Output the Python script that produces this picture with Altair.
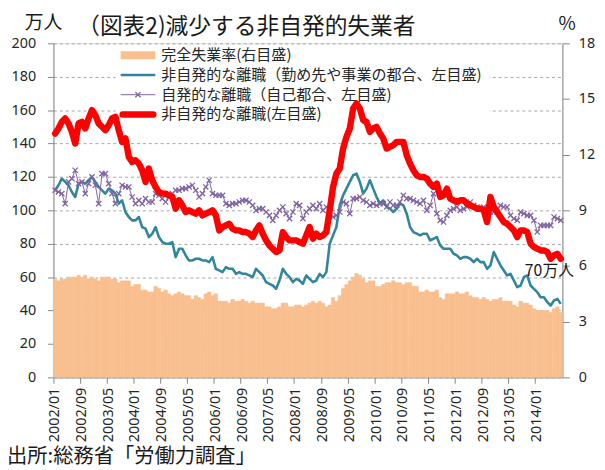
import altair as alt
import pandas as pd

# ---- data -------------------------------------------------------------
months = [f"{y}/{m:02d}" for y in range(2002, 2015) for m in range(1, 13)][:152]
tick_labels = months[::8]

# 完全失業率 (%) right axis
rate = [
    5.3, 5.2, 5.3, 5.3, 5.4, 5.4, 5.4, 5.5, 5.4, 5.5, 5.3, 5.4,
    5.3, 5.2, 5.4, 5.4, 5.4, 5.3, 5.3, 5.1, 5.2, 5.2, 5.2, 4.9,
    5.0, 5.0, 4.7, 4.7, 4.6, 4.6, 4.9, 4.8, 4.6, 4.7, 4.5, 4.4,
    4.5, 4.6, 4.5, 4.4, 4.4, 4.2, 4.4, 4.3, 4.2, 4.5, 4.6, 4.4,
    4.5, 4.1, 4.1, 4.1, 4.0, 4.2, 4.1, 4.1, 4.2, 4.1, 4.0, 4.1,
    4.0, 4.0, 4.0, 3.8, 3.8, 3.7, 3.7, 3.8, 4.0, 4.0, 3.8, 3.8,
    3.9, 3.9, 3.8, 3.9, 4.0, 4.1, 4.0, 4.1, 4.0, 3.8, 3.9, 4.3,
    4.1, 4.4, 4.8, 5.0, 5.2, 5.4, 5.6, 5.5, 5.3, 5.1, 5.2, 5.2,
    4.9, 4.9, 5.0, 5.1, 5.1, 5.2, 5.1, 5.1, 5.0, 5.1, 5.1, 4.9,
    4.9, 4.6, 4.6, 4.7, 4.6, 4.6, 4.7, 4.3, 4.2, 4.5, 4.5, 4.5,
    4.6, 4.5, 4.5, 4.6, 4.4, 4.3, 4.3, 4.2, 4.3, 4.2, 4.1, 4.2,
    4.2, 4.3, 4.1, 4.1, 4.1, 3.9, 3.8, 4.1, 4.0, 4.0, 3.9, 3.7,
    3.6, 3.6, 3.6, 3.6, 3.5, 3.7, 3.8, 3.5,
]

# 非自発的な離職（勤め先や事業の都合）万人
company = [
    112, 115, 119, 117, 115, 111, 108, 116, 117, 116, 118, 120,
    117, 114, 112, 110, 113, 112, 110, 104, 106, 99, 96, 94,
    94, 96, 90, 89, 84, 86, 90, 84, 81, 80, 80, 81,
    72, 77, 77, 73, 70, 70, 71, 71, 70, 70, 69, 72,
    65, 64, 63, 66, 65, 65, 62, 63, 62, 62, 61, 60,
    65, 63, 61, 57, 56, 55, 53, 58, 65, 62, 60, 57,
    59, 58, 56, 61, 59, 57, 58, 62, 60, 63, 80, 85,
    90, 103, 109, 113, 117, 121, 122, 117, 110, 113, 118, 113,
    108, 104, 106, 102, 101, 99, 101, 104, 103, 98, 90, 87,
    86, 85, 86, 86, 82, 83, 84, 79, 77, 77, 77, 74,
    73, 71, 72, 72, 71, 69, 71, 69, 69, 65, 67, 75,
    71, 67, 64, 61, 62, 58, 54, 55, 60, 61, 55, 53,
    51, 48, 48, 45, 43, 46, 47, 44,
]

# 自発的な離職（自己都合）万人
voluntary = [
    112, 111, 110, 104, 117, 119, 124, 116, 117, 110, 116, 120,
    115, 104, 122, 122, 116, 110, 104, 110, 115, 114, 114, 108,
    104, 106, 104, 107, 105, 105, 110, 109, 107, 105, 108, 110,
    112, 112, 113, 113, 114, 115, 112, 108, 110, 114, 118, 110,
    109, 109, 109, 104, 103, 104, 104, 105, 106, 106, 105, 103,
    100, 101, 101, 99, 97, 94, 97, 100, 102, 98, 95, 99,
    104, 103, 95, 99, 101, 103, 101, 104, 100, 102, 99, 96,
    97, 99, 105, 104, 98, 107, 107, 108, 106, 105, 103, 104,
    103, 104, 104, 102, 105, 103, 103, 105, 109, 107, 107, 106,
    105, 104, 106, 100, 103, 110, 98, 94, 93, 97, 100, 101,
    102, 100, 101, 102, 105, 103, 102, 101, 102, 101, 99, 99,
    99, 103, 102, 102, 97, 95, 94, 99, 98, 97, 97, 94,
    87, 91, 91, 91, 91, 96, 95, 94,
]

# 非自発的な離職 計 万人
total = [
    146, 149, 153, 155, 152, 147, 140, 152, 153, 149, 155, 160,
    157, 152, 150, 148, 151, 155, 156, 148, 141, 143, 132, 129,
    130, 128, 124, 117, 125, 118, 114, 111, 110, 110, 109, 108,
    101, 106, 103, 99, 100, 99, 98, 100, 97, 98, 99, 100,
    97, 88, 90, 91, 92, 89, 88, 88, 87, 87, 86, 84,
    88, 91, 86, 82, 79, 77, 75, 76, 87, 84, 82, 82,
    82, 81, 80, 85, 90, 83, 86, 84, 85, 87, 100, 114,
    122, 125, 137, 144, 149, 161, 164, 161, 154, 153, 147, 149,
    150, 146, 143, 137, 138, 139, 141, 141, 141, 133, 128, 124,
    121, 120, 120, 119, 116, 114, 116, 108, 109, 113, 107, 106,
    105, 106, 106, 104, 103, 102, 101, 101, 100, 93, 108, 102,
    99, 96, 93, 92, 90, 88, 84, 88, 88, 87, 80, 78,
    77, 76, 76, 75, 71, 73, 74, 71,
]

legend_labels = [
    "完全失業率(右目盛)",
    "非自発的な離職（勤め先や事業の都合、左目盛)",
    "自発的な離職（自己都合、左目盛)",
    "非自発的な離職(左目盛)",
]

df = pd.DataFrame({"month": months, "rate": rate, "company": company,
                   "voluntary": voluntary, "total": total})

ORANGE = "#F9BF8F"
TEAL = "#31859C"
PURPLE = "#8064A2"
RED = "#FF0000"
AXIS_C = "#868686"
TXT = "#262626"
JP = "Noto Sans CJK JP"
NUM = "Noto Sans"

x_scale = alt.Scale(type="band", domain=months, paddingInner=0, paddingOuter=0)
x_axis = alt.Axis(values=tick_labels, labelAngle=270, bandPosition=0, title=None,
                  domainColor=AXIS_C, tickColor=AXIS_C, tickSize=6, labelFontSize=14.5,
                  labelFont=NUM, labelColor=TXT, labelPadding=4, grid=False,
                  labelOverlap=False)

left_axis = alt.Axis(orient="left", values=list(range(0, 201, 20)), title=None,
                     grid=True, gridDash=[3, 3], gridColor="#A6A6A6", gridWidth=1,
                     domainColor=AXIS_C, tickColor=AXIS_C, tickSize=6,
                     labelFont=NUM, labelFontSize=14.5, labelColor=TXT, labelPadding=12)
right_axis = alt.Axis(orient="right", values=list(range(0, 19, 3)), title=None,
                      grid=False, domainColor=AXIS_C, tickColor=AXIS_C, tickSize=7,
                      labelFont=NUM, labelFontSize=14.5, labelColor=TXT, labelPadding=9)
y_left = alt.Scale(domain=[0, 200], nice=False, zero=True)

base = alt.Chart(df)

bars = base.mark_bar(color=ORANGE, stroke=ORANGE, strokeWidth=0.6).encode(
    x=alt.X("month:N", sort=months, scale=x_scale, axis=x_axis),
    y=alt.Y("rate:Q", scale=alt.Scale(domain=[0, 18], nice=False), axis=right_axis),
)

xl = alt.X("month:N", sort=months, scale=x_scale, axis=x_axis, bandPosition=0.5)

teal = base.mark_line(color=TEAL, strokeWidth=2.6, strokeJoin="round").encode(
    x=xl, y=alt.Y("company:Q", scale=y_left, axis=left_axis))
purple_line = base.mark_line(color=PURPLE, strokeWidth=1).encode(
    x=xl, y=alt.Y("voluntary:Q", scale=y_left, axis=left_axis))
XSHAPE = "M-1,-1L1,1M-1,1L1,-1"
purple_pts = base.mark_point(shape=XSHAPE, color=PURPLE, size=28, strokeWidth=1.3,
                             filled=False, opacity=1).encode(
    x=xl, y=alt.Y("voluntary:Q", scale=y_left, axis=left_axis))
red = base.mark_line(color=RED, strokeWidth=6.5, strokeJoin="round", strokeCap="round").encode(
    x=xl, y=alt.Y("total:Q", scale=y_left, axis=left_axis))

lines = alt.layer(teal, purple_line, purple_pts, red)

one = pd.DataFrame({"a": [0]})

# legend box (white, hides gridlines) - drawn below the series
legend_box = alt.Chart(one).mark_rect(fill="white").encode(
    x=alt.value(63), x2=alt.value(441), y=alt.value(3), y2=alt.value(81))

leg_rows = [12, 32, 52, 72]
sw_x0, sw_x1, txt_x = 68, 103, 109

leg_orange = alt.Chart(one).mark_rect(fill=ORANGE).encode(
    x=alt.value(sw_x0), x2=alt.value(sw_x1),
    y=alt.value(leg_rows[0] - 4), y2=alt.value(leg_rows[0] + 4))
leg_teal = alt.Chart(one).mark_rule(color=TEAL, strokeWidth=2.6).encode(
    x=alt.value(sw_x0), x2=alt.value(sw_x1), y=alt.value(leg_rows[1]))
leg_purple = alt.Chart(one).mark_rule(color=PURPLE, strokeWidth=1).encode(
    x=alt.value(sw_x0), x2=alt.value(sw_x1), y=alt.value(leg_rows[2]))
leg_purple_pt = alt.Chart(one).mark_point(shape=XSHAPE, color=PURPLE, size=28,
                                          strokeWidth=1.3, opacity=1).encode(
    x=alt.value((sw_x0 + sw_x1) / 2), y=alt.value(leg_rows[2]))
leg_red = alt.Chart(one).mark_rule(color=RED, strokeWidth=6.5, strokeCap="round").encode(
    x=alt.value(sw_x0 + 2), x2=alt.value(sw_x1 - 2), y=alt.value(leg_rows[3]))

leg_text_layers = [
    alt.Chart(pd.DataFrame({"t": [lab]})).mark_text(
        align="left", baseline="middle", font=JP, fontSize=15.2, color=TXT).encode(
        x=alt.value(txt_x), y=alt.value(yy), text="t:N")
    for lab, yy in zip(legend_labels, leg_rows)
]

def label(txt, x, y, size, align="left"):
    return alt.Chart(pd.DataFrame({"t": [txt]})).mark_text(
        align=align, baseline="middle", font=JP, fontSize=size, color="#1a1a1a").encode(
        x=alt.value(x), y=alt.value(y), text="t:N")

title_unit = label("万人", -29, -20, 19)
title_main = label("（図表2)減少する非自発的失業者", 24, -16, 23)
title_pct = label("%", 511, -19, 19)
source = label("出所:総務省「労働力調査」", -47, 419, 20.5)
note70 = label("70万人", 477, 230, 16)

chart = alt.layer(
    bars, legend_box, lines,
    leg_orange, leg_teal, leg_purple, leg_purple_pt, leg_red, *leg_text_layers,
    title_unit, title_main, title_pct, source, note70,
).resolve_scale(y="independent").properties(
    width=515, height=338,
    autosize=alt.AutoSizeParams(type="none"),
    padding={"left": 46, "top": 33, "right": 35, "bottom": 90},
).configure_view(stroke=None).configure(background="white")

chart.save("out.html", embed_options={"renderer": "svg", "actions": False})
